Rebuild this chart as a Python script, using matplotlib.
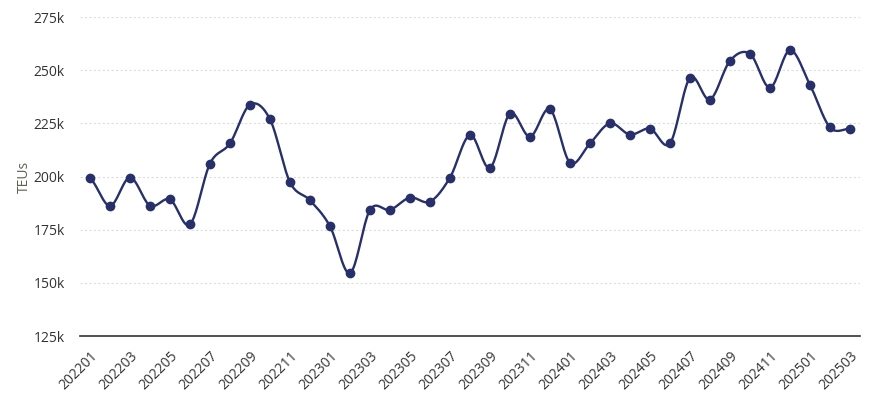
import numpy as np
import matplotlib.pyplot as plt

# Monthly container throughput (TEUs), 2022-01 .. 2025-03
months = [f"{y}{m:02d}" for y in (2022, 2023, 2024) for m in range(1, 13)] + ["202501", "202502", "202503"]
teus = [199.1, 186.2, 199.5, 186.3, 189.2, 177.5, 206.1, 215.6, 233.8, 226.9, 197.3, 188.8,
        176.6, 154.6, 184.3, 184.3, 190.1, 188.2, 199.5, 219.5, 204.1, 229.6, 218.7, 231.6,
        206.5, 215.6, 225.0, 219.7, 222.5, 215.6, 246.4, 236.2, 254.4, 257.7, 241.8, 259.4,
        243.1, 223.1, 222.5]
teus = np.array(teus) * 1000
yticks = [125000, 150000, 175000, 200000, 225000, 250000, 275000]

line_color = "#27306b"


def smooth(xs, ys, n=20):
    # catmull-rom curve through the points, just for drawing the line
    xs = np.asarray(xs, float)
    ys = np.asarray(ys, float)
    px = np.concatenate([[2 * xs[0] - xs[1]], xs, [2 * xs[-1] - xs[-2]]])
    py = np.concatenate([[ys[0]], ys, [ys[-1]]])
    outx, outy = [], []
    t = np.linspace(0, 1, n, endpoint=False)
    for i in range(1, len(px) - 2):
        for p, out in ((px, outx), (py, outy)):
            p0, p1, p2, p3 = p[i - 1], p[i], p[i + 1], p[i + 2]
            out.extend(0.5 * (2 * p1 + (-p0 + p2) * t + (2 * p0 - 5 * p1 + 4 * p2 - p3) * t ** 2
                              + (-p0 + 3 * p1 - 3 * p2 + p3) * t ** 3))
    outx.append(xs[-1])
    outy.append(ys[-1])
    return np.array(outx), np.array(outy)


plt.rcParams['font.family'] = ['Open Sans', 'DejaVu Sans']

fig = plt.figure(figsize=(8.82, 4.05), dpi=100)
ax = fig.add_axes([80 / 882, 1 - 336 / 405, 780 / 882, 319 / 405])

x = np.arange(len(months))
sx, sy = smooth(x, teus)
ax.plot(sx, sy, color=line_color, linewidth=1.7, zorder=3)
ax.plot(x, teus, "o", color=line_color, markersize=6, zorder=4)

ax.set_xlim(-0.5, len(months) - 0.5)
ax.set_ylim(125000, 275000)
ax.set_yticks(yticks)
ax.set_yticklabels([f"{v // 1000}k" for v in yticks], color="#333333", fontsize=10)
ax.set_xticks(x[::2])
ax.set_xticklabels(months[::2], rotation=45, ha="right", rotation_mode="anchor",
                   color="#333333", fontsize=10)
ax.tick_params(axis="x", length=0, pad=9)
ax.tick_params(axis="y", length=0, pad=11)

for v in yticks[1:]:
    ax.axhline(v, color="#dddddd", linewidth=0.8, linestyle=(0, (2, 2)), zorder=1)

for s in ("top", "right", "left"):
    ax.spines[s].set_visible(False)
ax.spines["bottom"].set_color("#333333")
ax.spines["bottom"].set_linewidth(1.2)

ax.set_ylabel("TEUs", color="#5f6150", fontsize=10)
ax.yaxis.set_label_coords(-48 / 780, 0.5)

fig.savefig("out.png", dpi=100)
